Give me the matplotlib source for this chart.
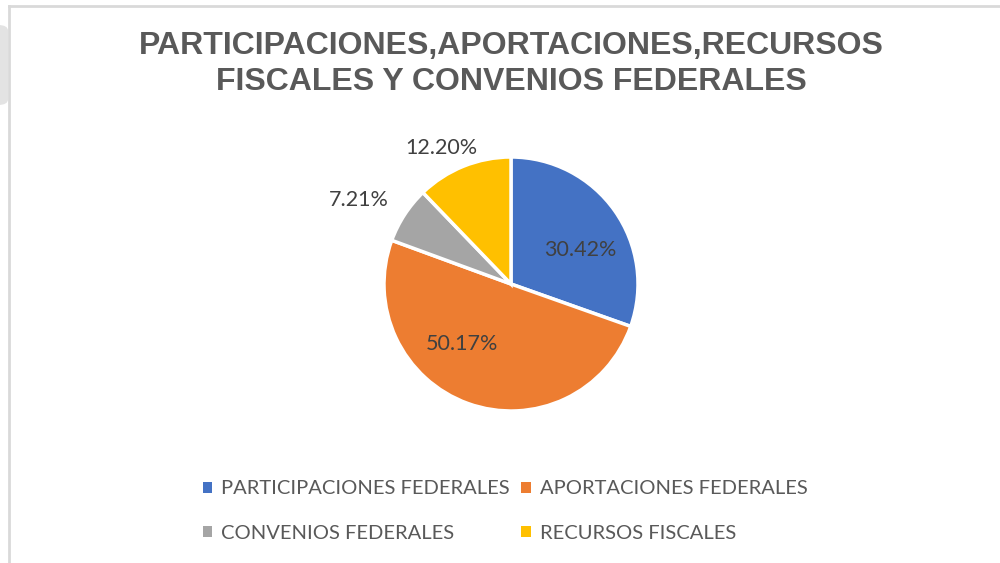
import matplotlib
matplotlib.use("Agg")
import matplotlib.pyplot as plt
from matplotlib.patches import FancyBboxPatch
from matplotlib.lines import Line2D
import numpy as np

# ---- data ----
categories = ["PARTICIPACIONES FEDERALES", "APORTACIONES FEDERALES",
              "CONVENIOS FEDERALES", "RECURSOS FISCALES"]
values = [30.42, 50.17, 7.21, 12.20]
colors = ["#4472C4", "#ED7D31", "#A5A5A5", "#FFC000"]
title = "PARTICIPACIONES,APORTACIONES,RECURSOS\nFISCALES Y CONVENIOS FEDERALES"

# label placement style (radial factor, angle shift in degrees)
label_style = [(0.61, -8), (0.60, -20), (1.37, 4), (1.21, 5)]

W, H = 1000, 563
fig = plt.figure(figsize=(W / 100, H / 100), dpi=100)
fig.patch.set_facecolor("white")

# background artefacts: border and a gray shape at the left edge
fig.add_artist(FancyBboxPatch((-12 / W, 1 - 105 / H), 20 / W, 80 / H,
                              boxstyle="round,pad=0,rounding_size=0.01",
                              transform=fig.transFigure, facecolor="#e3e3e3",
                              edgecolor="none", zorder=0))
fig.add_artist(Line2D([9 / W, 9 / W], [0, 1 - 6 / H], transform=fig.transFigure,
                      color="#d9d9d9", lw=2))
fig.add_artist(Line2D([9 / W, 1], [1 - 6 / H, 1 - 6 / H], transform=fig.transFigure,
                      color="#d9d9d9", lw=2))

ax = fig.add_axes([0, 0, 1, 1])
ax.set_xlim(0, W)
ax.set_ylim(0, H)
ax.set_aspect("equal")
ax.axis("off")

cx, cy, R = 511, H - 284, 127
wedges, _ = ax.pie(values, colors=colors, startangle=90, counterclock=False,
                   center=(cx, cy), radius=R, frame=True,
                   wedgeprops=dict(edgecolor="white", linewidth=2.5))
ax.set_xlim(0, W)
ax.set_ylim(0, H)
ax.axis("off")

for w, v, (f, da) in zip(wedges, values, label_style):
    th = np.deg2rad((w.theta1 + w.theta2) / 2 + da)
    ax.text(cx + f * R * np.cos(th), cy + f * R * np.sin(th) - 1, f"{v:.2f}%",
            ha="center", va="center", fontsize=15.5, color="#404040",
            family="Lato")

fig.text(0.511, 1 - 64 / H, title, ha="center", va="center", fontsize=23,
         fontweight="bold", color="#595959", family="Liberation Sans",
         linespacing=1.22)

order = [0, 2, 1, 3]
leg = fig.legend([wedges[i] for i in order], [categories[i] for i in order],
                 ncol=2, loc="center", bbox_to_anchor=(0.505, 1 - 511 / H),
                 frameon=False, handlelength=0.45, handleheight=0.45,
                 handletextpad=0.45, columnspacing=0.6, labelspacing=1.35,
                 prop=dict(family="Lato", size=14.5))
for t in leg.get_texts():
    t.set_color("#595959")
for h in leg.legend_handles:
    h.set_edgecolor("none")

fig.savefig("out.png", dpi=100, facecolor="white")
